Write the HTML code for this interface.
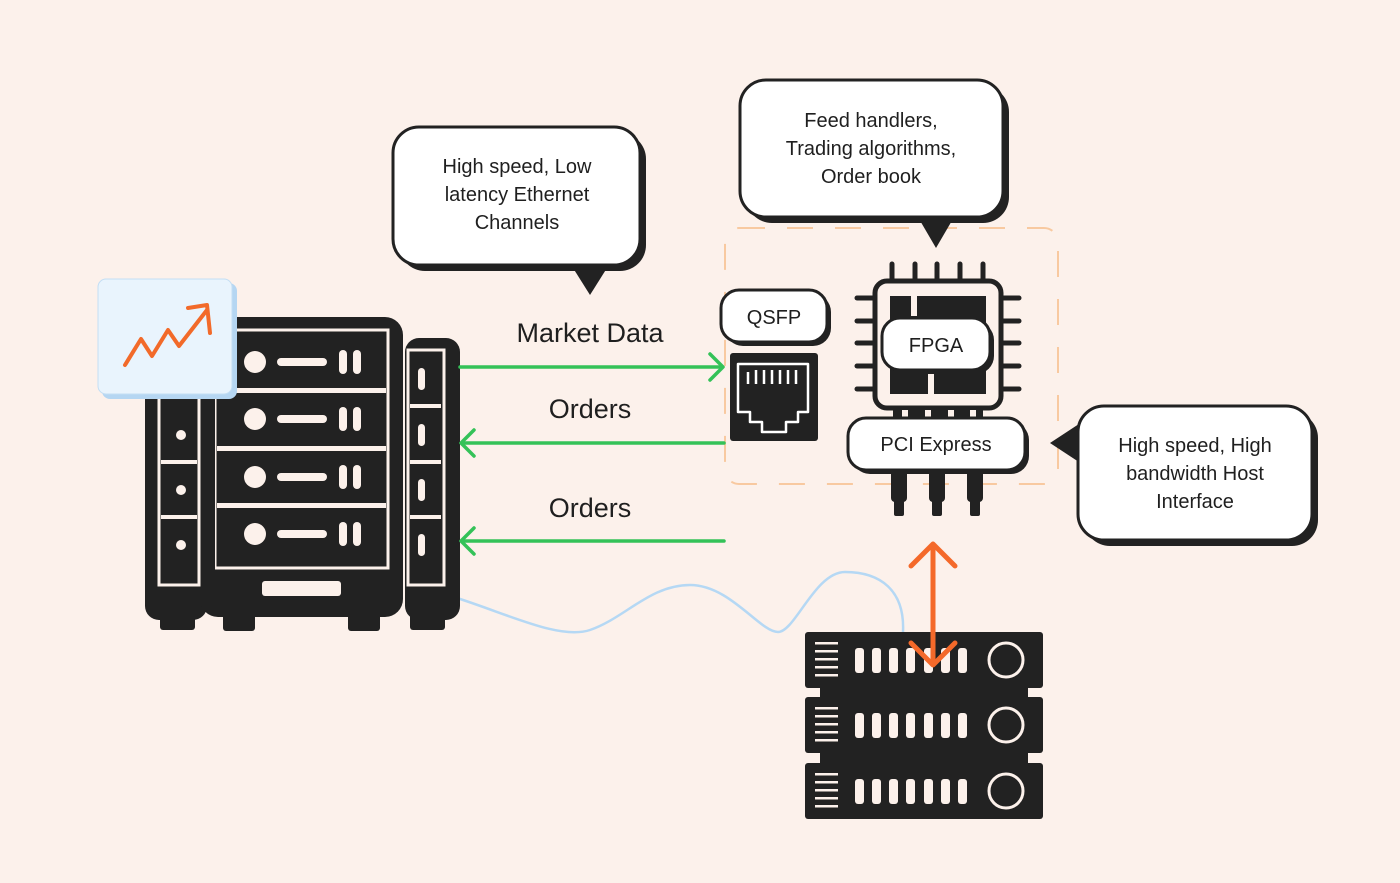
<!DOCTYPE html>
<html><head><meta charset="utf-8"><style>
html,body{margin:0;padding:0;background:#fcf1eb;}
svg{display:block}
text{font-family:"Liberation Sans",sans-serif;fill:#1f1f1f}
</style></head><body>
<svg width="1400" height="883" viewBox="0 0 1400 883" xmlns="http://www.w3.org/2000/svg">
<rect width="1400" height="883" fill="#fcf1eb"/>

<rect x="725" y="228" width="333" height="256" rx="14" fill="none" stroke="#f8c9a0" stroke-width="2" stroke-dasharray="26 22"/>

<path d="M457,598 C510,615 560,640 590,630 C625,618 650,585 690,585 C730,585 760,632 778,632 C795,632 815,572 845,572 C880,572 905,590 903,632" fill="none" stroke="#b5d8f4" stroke-width="2.5"/>

<g fill="#222">
  <rect x="145" y="385" width="62" height="235" rx="14"/>
  <rect x="160" y="600" width="35" height="30" rx="3"/>
  <rect x="200" y="317" width="203" height="300" rx="18"/>
  <rect x="223" y="600" width="32" height="31" rx="3"/>
  <rect x="348" y="600" width="32" height="31" rx="3"/>
  <rect x="405" y="338" width="55" height="282" rx="14"/>
  <rect x="410" y="600" width="35" height="30" rx="3"/>
</g>
<g fill="none" stroke="#fcf1eb" stroke-width="3">
  <rect x="215" y="330" width="173" height="238"/>
  <rect x="159" y="395" width="40" height="190"/>
  <rect x="408" y="350" width="36" height="235"/>
</g>
<rect x="203" y="330" width="12" height="270" fill="#222"/>
<g fill="#fcf1eb">
  <rect x="262" y="581" width="79" height="15" rx="3"/>
  <g id="slot">
    <circle cx="255" cy="362" r="11"/>
    <rect x="277" y="358" width="50" height="8" rx="4"/>
    <rect x="339" y="350" width="8" height="24" rx="4"/>
    <rect x="353" y="350" width="8" height="24" rx="4"/>
  </g>
  <use href="#slot" y="57"/><use href="#slot" y="115"/><use href="#slot" y="172"/>
  <circle cx="181" cy="435" r="5"/><circle cx="181" cy="490" r="5"/><circle cx="181" cy="545" r="5"/>
  <rect x="418" y="368" width="7" height="22" rx="3.5"/><rect x="418" y="424" width="7" height="22" rx="3.5"/>
  <rect x="418" y="479" width="7" height="22" rx="3.5"/><rect x="418" y="534" width="7" height="22" rx="3.5"/>
</g>
<rect x="161" y="460" width="36" height="4" fill="#fcf1eb"/>
<rect x="161" y="515" width="36" height="4" fill="#fcf1eb"/>
<rect x="410" y="404" width="31" height="4" fill="#fcf1eb"/>
<rect x="410" y="460" width="31" height="4" fill="#fcf1eb"/>
<rect x="410" y="515" width="31" height="4" fill="#fcf1eb"/>
<rect x="217" y="388" width="169" height="5" fill="#fcf1eb"/>
<rect x="217" y="446" width="169" height="5" fill="#fcf1eb"/>
<rect x="217" y="503" width="169" height="5" fill="#fcf1eb"/>

<rect x="102" y="283" width="135" height="116" rx="8" fill="#b5d6f2"/>
<rect x="98" y="279" width="134" height="115" rx="8" fill="#e9f4fd" stroke="#c3def4" stroke-width="1"/>
<polyline points="125,365 141,339 152,356 168,330 179,346 207,310" fill="none" stroke="#f26a2a" stroke-width="4" stroke-linecap="round" stroke-linejoin="round"/>
<polyline points="188,308 207,305 210,333" fill="none" stroke="#f26a2a" stroke-width="4" stroke-linecap="round" stroke-linejoin="round"/>

<g stroke="#34c258" stroke-width="3.5" fill="none" stroke-linecap="round" stroke-linejoin="round">
  <line x1="460" y1="367" x2="722" y2="367"/><polyline points="710,354 723,367 710,380"/>
  <line x1="462" y1="443" x2="724" y2="443"/><polyline points="474,430 461,443 474,456"/>
  <line x1="462" y1="541" x2="724" y2="541"/><polyline points="474,528 461,541 474,554"/>
</g>
<text x="590" y="342" font-size="27" text-anchor="middle">Market Data</text>
<text x="590" y="418" font-size="27" text-anchor="middle">Orders</text>
<text x="590" y="517" font-size="27" text-anchor="middle">Orders</text>

<g>
  <rect x="399" y="133" width="247" height="138" rx="26" fill="#222"/>
  <polygon points="568,260 612,260 590,295" fill="#222"/>
  <rect x="393" y="127" width="247" height="138" rx="26" fill="#fff" stroke="#222" stroke-width="3"/>
  <text x="517" y="173" font-size="20" text-anchor="middle">High speed, Low</text>
  <text x="517" y="201" font-size="20" text-anchor="middle">latency Ethernet</text>
  <text x="517" y="229" font-size="20" text-anchor="middle">Channels</text>
</g>
<g>
  <rect x="746" y="86" width="263" height="137" rx="26" fill="#222"/>
  <polygon points="915,212 957,212 936,248" fill="#222"/>
  <rect x="740" y="80" width="263" height="137" rx="26" fill="#fff" stroke="#222" stroke-width="3"/>
  <text x="871" y="127" font-size="20" text-anchor="middle">Feed handlers,</text>
  <text x="871" y="155" font-size="20" text-anchor="middle">Trading algorithms,</text>
  <text x="871" y="183" font-size="20" text-anchor="middle">Order book</text>
</g>
<g>
  <rect x="1084" y="412" width="234" height="134" rx="26" fill="#222"/>
  <polygon points="1085,420 1085,466 1050,443" fill="#222"/>
  <rect x="1078" y="406" width="234" height="134" rx="26" fill="#fff" stroke="#222" stroke-width="3"/>
  <text x="1195" y="452" font-size="20" text-anchor="middle">High speed, High</text>
  <text x="1195" y="480" font-size="20" text-anchor="middle">bandwidth Host</text>
  <text x="1195" y="508" font-size="20" text-anchor="middle">Interface</text>
</g>

<rect x="725" y="294" width="106" height="52" rx="18" fill="#222"/>
<rect x="721" y="290" width="106" height="52" rx="18" fill="#fff" stroke="#222" stroke-width="3"/>
<text x="774" y="324" font-size="20" text-anchor="middle">QSFP</text>
<rect x="730" y="353" width="88" height="88" rx="3" fill="#222"/>
<path d="M738,364 H808 V412 H798 V422 H786 V432 H762 V422 H750 V412 H738 Z" fill="none" stroke="#fff" stroke-width="2.5" stroke-linejoin="round"/>
<g stroke="#fff" stroke-width="2.5"><line x1="748" y1="372" x2="748" y2="384"/><line x1="756" y1="370" x2="756" y2="384"/><line x1="764" y1="370" x2="764" y2="384"/><line x1="772" y1="370" x2="772" y2="384"/><line x1="780" y1="370" x2="780" y2="384"/><line x1="788" y1="370" x2="788" y2="384"/><line x1="796" y1="370" x2="796" y2="384"/></g>

<g stroke="#222" stroke-width="5" stroke-linecap="round">
  <line x1="892" y1="264" x2="892" y2="282"/><line x1="915" y1="264" x2="915" y2="282"/><line x1="937" y1="264" x2="937" y2="282"/><line x1="960" y1="264" x2="960" y2="282"/><line x1="983" y1="264" x2="983" y2="282"/>
  <line x1="857" y1="298" x2="874" y2="298"/><line x1="857" y1="321" x2="874" y2="321"/><line x1="857" y1="343" x2="874" y2="343"/><line x1="857" y1="366" x2="874" y2="366"/><line x1="857" y1="389" x2="874" y2="389"/>
  <line x1="1002" y1="298" x2="1019" y2="298"/><line x1="1002" y1="321" x2="1019" y2="321"/><line x1="1002" y1="343" x2="1019" y2="343"/><line x1="1002" y1="366" x2="1019" y2="366"/><line x1="1002" y1="389" x2="1019" y2="389"/>
</g>
<rect x="875" y="281" width="126" height="127" rx="12" fill="#fcf1eb" stroke="#222" stroke-width="5"/>
<rect x="890" y="296" width="96" height="98" fill="#222"/>
<rect x="911" y="296" width="6" height="20" fill="#fcf1eb"/>
<rect x="928" y="370" width="6" height="24" fill="#fcf1eb"/>
<rect x="886" y="322" width="108" height="52" rx="18" fill="#222"/>
<rect x="882" y="318" width="108" height="52" rx="18" fill="#fff" stroke="#222" stroke-width="3"/>
<text x="936" y="352" font-size="20" text-anchor="middle">FPGA</text>
<rect x="893" y="408" width="90" height="12" fill="#222"/>
<g fill="#fcf1eb"><rect x="902" y="410" width="6" height="8"/><rect x="925" y="410" width="6" height="8"/><rect x="948" y="410" width="6" height="8"/><rect x="970" y="410" width="6" height="8"/></g>
<g fill="#222">
  <rect x="891" y="470" width="16" height="32" rx="4"/><rect x="894" y="500" width="10" height="16" rx="2"/>
  <rect x="929" y="470" width="16" height="32" rx="4"/><rect x="932" y="500" width="10" height="16" rx="2"/>
  <rect x="967" y="470" width="16" height="32" rx="4"/><rect x="970" y="500" width="10" height="16" rx="2"/>
</g>
<rect x="852" y="422" width="177" height="52" rx="18" fill="#222"/>
<rect x="848" y="418" width="177" height="52" rx="18" fill="#fff" stroke="#222" stroke-width="3"/>
<text x="936" y="451" font-size="20" text-anchor="middle">PCI Express</text>

<g fill="#222">
  <rect x="805" y="632" width="238" height="56" rx="3"/>
  <rect x="820" y="686" width="208" height="12"/>
  <rect x="805" y="697" width="238" height="56" rx="3"/>
  <rect x="820" y="751" width="208" height="12"/>
  <rect x="805" y="763" width="238" height="56" rx="3"/>
</g>
<g id="unit">
  <g fill="#fcf1eb">
    <rect x="815" y="642" width="23" height="2.5"/><rect x="815" y="650" width="23" height="2.5"/><rect x="815" y="658" width="23" height="2.5"/><rect x="815" y="666" width="23" height="2.5"/><rect x="815" y="674" width="23" height="2.5"/>
    <rect x="855" y="648" width="9" height="25" rx="3"/><rect x="872" y="648" width="9" height="25" rx="3"/><rect x="889" y="648" width="9" height="25" rx="3"/><rect x="906" y="648" width="9" height="25" rx="3"/><rect x="924" y="648" width="9" height="25" rx="3"/><rect x="941" y="648" width="9" height="25" rx="3"/><rect x="958" y="648" width="9" height="25" rx="3"/>
  </g>
  <circle cx="1006" cy="660" r="17" fill="none" stroke="#fcf1eb" stroke-width="3"/>
</g>
<use href="#unit" y="65"/><use href="#unit" y="131"/>

<g stroke="#f4692a" stroke-width="5" fill="none" stroke-linecap="round" stroke-linejoin="round">
  <line x1="933" y1="545" x2="933" y2="664"/>
  <polyline points="911,566 933,544 955,566"/>
  <polyline points="911,643 933,665 955,643"/>
</g>
</svg>
</body></html>
